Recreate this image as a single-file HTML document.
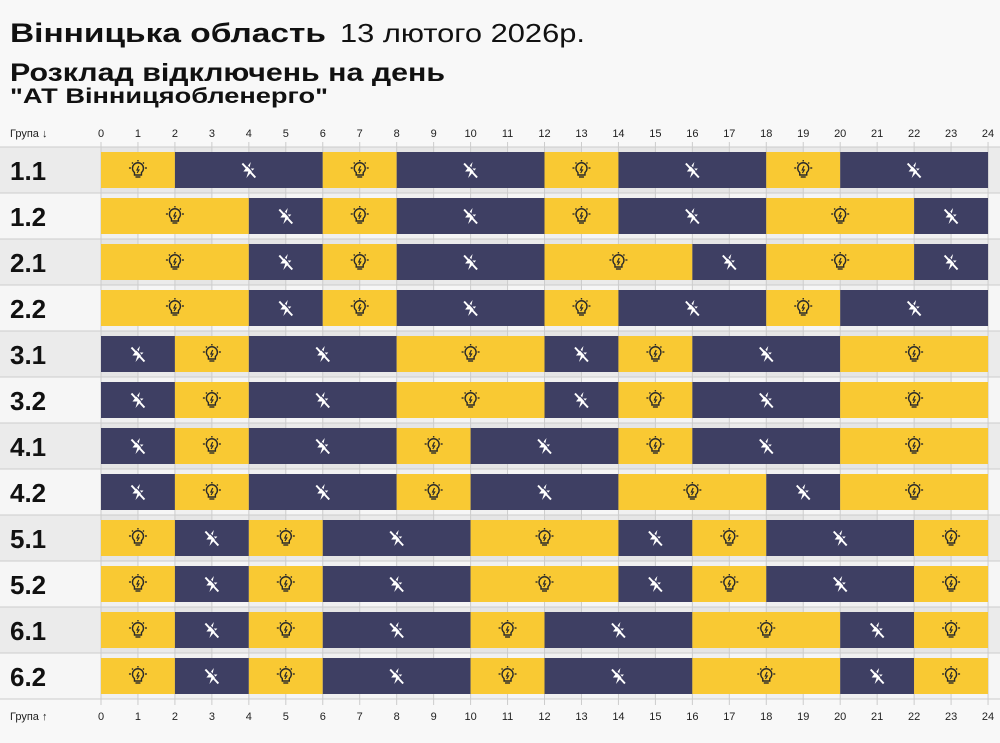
<!DOCTYPE html>
<html><head><meta charset="utf-8"><style>
body{margin:0;background:#f8f8f8;width:1000px;height:738px;overflow:hidden;font-family:"Liberation Sans",sans-serif}
</style></head><body>
<svg id="s" width="1000" height="738" xmlns="http://www.w3.org/2000/svg" font-family="Liberation Sans, sans-serif">
<rect width="1000" height="738" fill="#f8f8f8"/>
<text x="10" y="42" font-size="27" font-weight="bold" fill="#111" textLength="316" lengthAdjust="spacingAndGlyphs">Вінницька область</text>
<text x="340" y="42" font-size="26" fill="#111" textLength="245" lengthAdjust="spacingAndGlyphs">13 лютого 2026р.</text>
<text x="10" y="81" font-size="25" font-weight="bold" fill="#111" textLength="435" lengthAdjust="spacingAndGlyphs">Розклад відключень на день</text>
<text x="10" y="103" font-size="21" font-weight="bold" fill="#111" textLength="318" lengthAdjust="spacingAndGlyphs">"АТ Вінницяобленерго"</text>
<g id="g"></g>
</svg>
<script>
const g=document.getElementById('g');
const X0=101,W=36.96,Y0=147,P=46;
const rows=[
["1.1",[[0,2,1],[2,6,0],[6,8,1],[8,12,0],[12,14,1],[14,18,0],[18,20,1],[20,24,0]]],
["1.2",[[0,4,1],[4,6,0],[6,8,1],[8,12,0],[12,14,1],[14,18,0],[18,22,1],[22,24,0]]],
["2.1",[[0,4,1],[4,6,0],[6,8,1],[8,12,0],[12,16,1],[16,18,0],[18,22,1],[22,24,0]]],
["2.2",[[0,4,1],[4,6,0],[6,8,1],[8,12,0],[12,14,1],[14,18,0],[18,20,1],[20,24,0]]],
["3.1",[[0,2,0],[2,4,1],[4,8,0],[8,12,1],[12,14,0],[14,16,1],[16,20,0],[20,24,1]]],
["3.2",[[0,2,0],[2,4,1],[4,8,0],[8,12,1],[12,14,0],[14,16,1],[16,20,0],[20,24,1]]],
["4.1",[[0,2,0],[2,4,1],[4,8,0],[8,10,1],[10,14,0],[14,16,1],[16,20,0],[20,24,1]]],
["4.2",[[0,2,0],[2,4,1],[4,8,0],[8,10,1],[10,14,0],[14,18,1],[18,20,0],[20,24,1]]],
["5.1",[[0,2,1],[2,4,0],[4,6,1],[6,10,0],[10,14,1],[14,16,0],[16,18,1],[18,22,0],[22,24,1]]],
["5.2",[[0,2,1],[2,4,0],[4,6,1],[6,10,0],[10,14,1],[14,16,0],[16,18,1],[18,22,0],[22,24,1]]],
["6.1",[[0,2,1],[2,4,0],[4,6,1],[6,10,0],[10,12,1],[12,16,0],[16,20,1],[20,22,0],[22,24,1]]],
["6.2",[[0,2,1],[2,4,0],[4,6,1],[6,10,0],[10,12,1],[12,16,0],[16,20,1],[20,22,0],[22,24,1]]]];
let h='';
h+=`<text x="10" y="137" font-size="11" fill="#222">Група ↓</text><text x="10" y="720" font-size="11" fill="#222">Група ↑</text>`;
rows.forEach((r,i)=>{const y=Y0+i*P;
 h+=`<rect x="0" y="${y}" width="1000" height="${P}" fill="${i%2?'#f6f6f6':'#ebebeb'}"/>`;
 for(let k=0;k<24;k+=2)h+=`<rect x="${X0+k*W}" y="${y}" width="${W}" height="${P}" fill="#000" opacity="0.025"/>`;
 h+=`<line x1="0" x2="1000" y1="${y}" y2="${y}" stroke="#ccc" stroke-width="1"/>`;
});
for(let k=0;k<=24;k++){const x=X0+k*W;
 h+=`<line x1="${x}" x2="${x}" y1="142" y2="705" stroke="#ccc" stroke-width="1"/>`;
 h+=`<text x="${x}" y="137" font-size="11" fill="#222" text-anchor="middle">${k}</text>`;
 h+=`<text x="${x}" y="720" font-size="11" fill="#222" text-anchor="middle">${k}</text>`;}
rows.forEach((r,i)=>{const y=Y0+i*P;
 h+=`<text x="10" y="${y+33}" font-size="26" font-weight="bold" fill="#111">${r[0]}</text>`;
 r[1].forEach(([a,b,on])=>{const x=X0+a*W,w=(b-a)*W,cx=x+w/2,cy=y+23;
  h+=`<rect x="${x}" y="${y+5}" width="${w}" height="36" fill="${on?'#f9c933':'#3e3f63'}"/>`;
  if(on){h+=`<g transform="translate(${cx},${cy})" stroke="#2a2a2a" fill="none" stroke-width="1.4"><path d="M-3.5,5 L-3.5,2.5 A5.5,5.5 0 1 1 3.5,2.5 L3.5,5 Z"/><line x1="-2.5" x2="2.5" y1="7" y2="7"/><path d="M0.8,-4 L-1,0 L1,0 L-0.8,3" stroke-width="1.2"/><line x1="-9" x2="-7" y1="-2" y2="-2"/><line x1="7" x2="9" y1="-2" y2="-2"/><line x1="0" x2="0" y1="-10" y2="-8.5"/><line x1="-6" x2="-5" y1="-7.5" y2="-6.5"/><line x1="6" x2="5" y1="-7.5" y2="-6.5"/></g>`;}
  else{h+=`<g transform="translate(${cx},${cy})"><path d="M2,-8 L-5.5,1.5 L-0.5,1.5 L-2.5,8 L5.5,-1.5 L0.5,-1.5 Z" fill="#fff"/><line x1="-6.5" y1="-6.5" x2="6.5" y2="7.5" stroke="#fff" stroke-width="2"/><line x1="-5" y1="-8" x2="8" y2="6" stroke="#3e3f63" stroke-width="1.2"/></g>`;}
 });
});
h+=`<line x1="0" x2="1000" y1="${Y0+12*P}" y2="${Y0+12*P}" stroke="#ccc"/>`;
g.innerHTML=h;
</script>
</body></html>
